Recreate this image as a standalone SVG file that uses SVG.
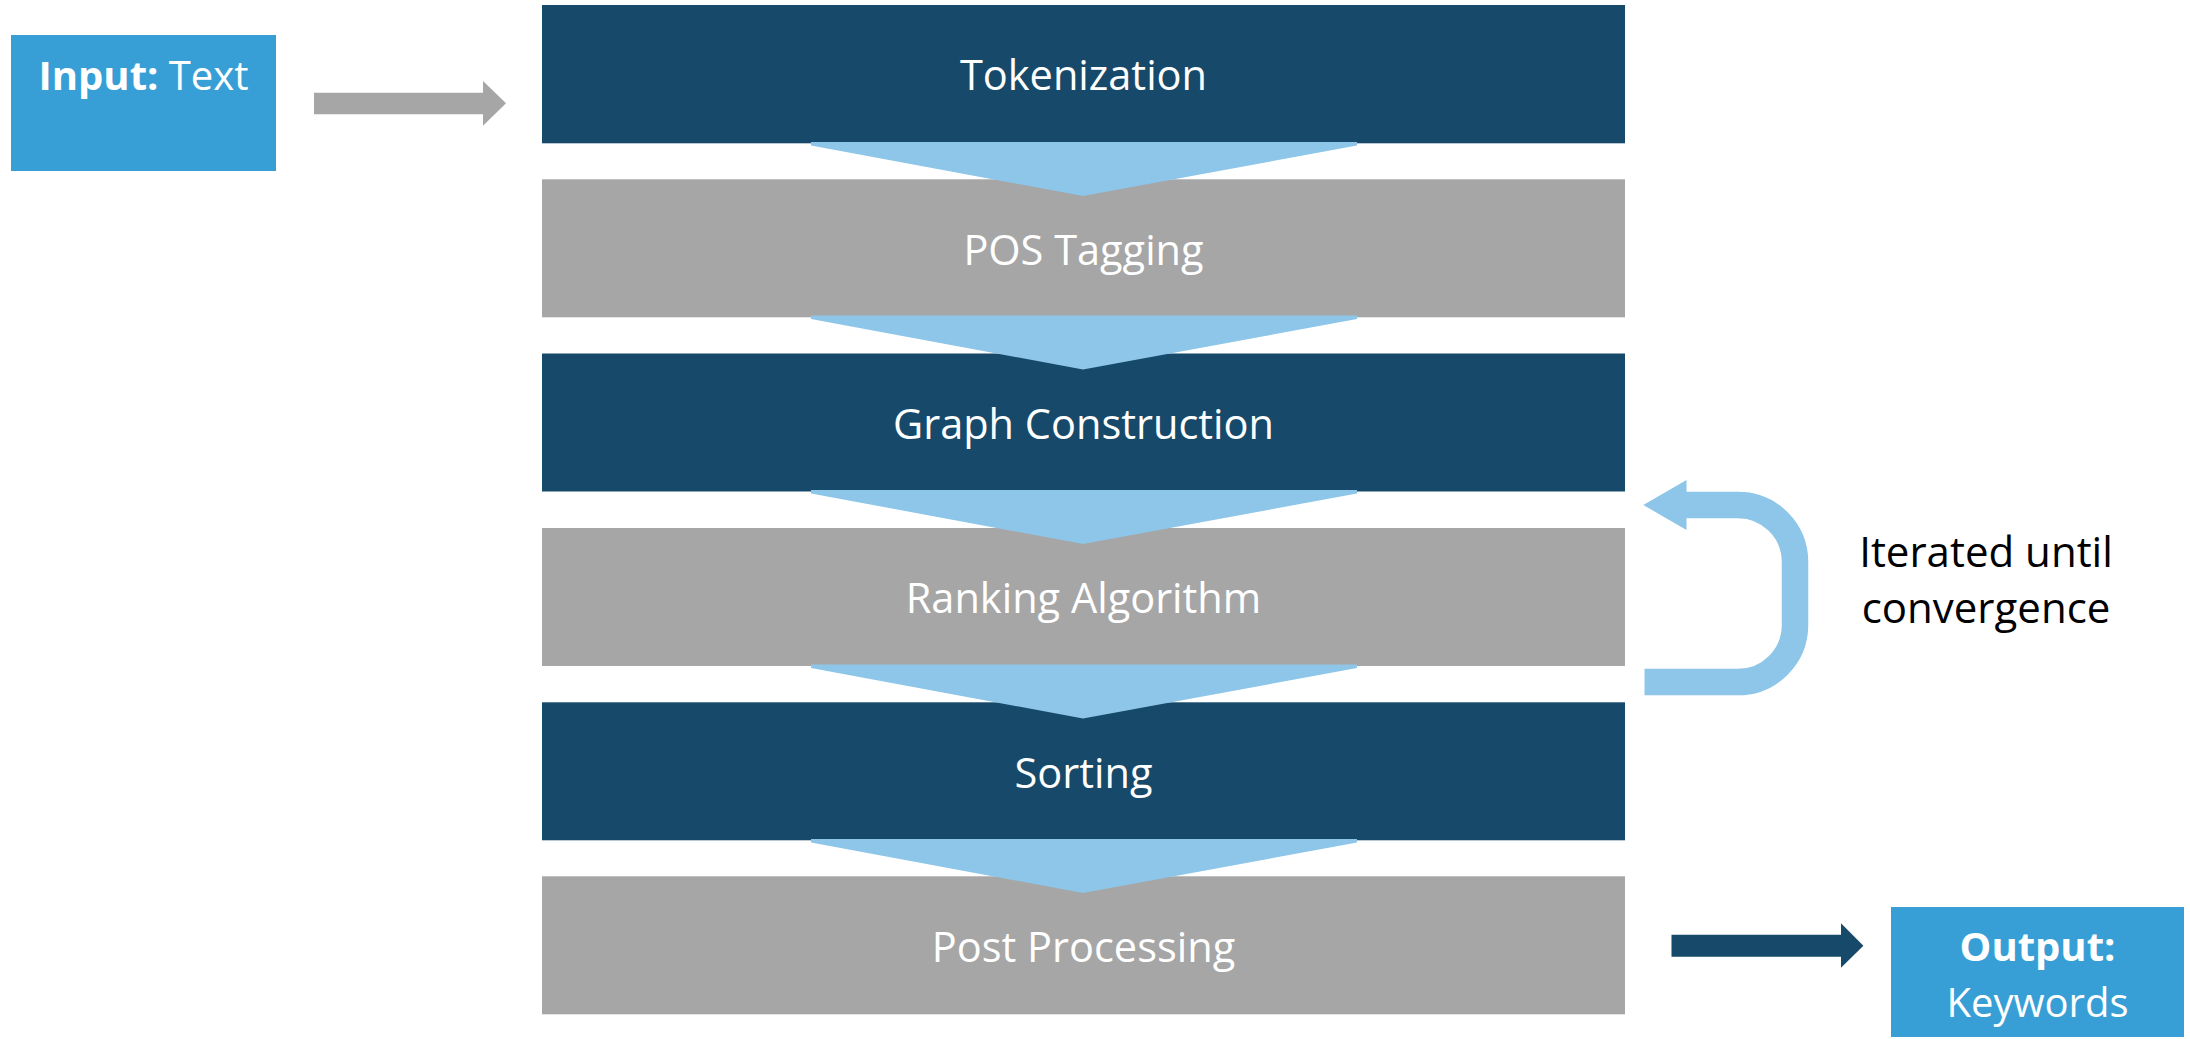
<svg xmlns="http://www.w3.org/2000/svg" width="2190" height="1039" viewBox="0 0 2190 1039">
<style>
.dark{fill:#174A6A}
.gray{fill:#A6A6A6}
.chev{fill:#8DC6E8}
.io{fill:#389FD6}
.lbl{font-family:"Open Sans","Liberation Sans",sans-serif;font-size:40px;fill:#FFFFFF;text-anchor:middle}
.step{font-size:41.5px}
.note{font-family:"Open Sans","Liberation Sans",sans-serif;font-size:42px;fill:#000000;text-anchor:middle}
.b{font-weight:bold}
</style>
<rect width="2190" height="1039" fill="#FFFFFF"/>
<g id="input">
<rect class="io" x="11" y="35" width="265" height="136"/>
<text class="lbl" x="143.5" y="90"><tspan class="b">Input:</tspan> Text</text>
</g>
<g id="tokenization">
<rect class="dark" x="542" y="5" width="1083" height="138.3"/>
<text class="lbl step" x="1083.5" y="90.4">Tokenization</text>
</g>
<g id="pos-tagging">
<rect class="gray" x="542" y="179.3" width="1083" height="138"/>
<text class="lbl step" x="1083.5" y="264.7">POS Tagging</text>
</g>
<g id="graph-construction">
<rect class="dark" x="542" y="353.5" width="1083" height="138"/>
<text class="lbl step" x="1083.5" y="439">Graph Construction</text>
</g>
<g id="ranking-algorithm">
<rect class="gray" x="542" y="528" width="1083" height="138"/>
<text class="lbl step" x="1083.5" y="613.4">Ranking Algorithm</text>
</g>
<g id="sorting">
<rect class="dark" x="542" y="702.3" width="1083" height="138"/>
<text class="lbl step" x="1083.5" y="787.7">Sorting</text>
</g>
<g id="post-processing">
<rect class="gray" x="542" y="876.3" width="1083" height="138"/>
<text class="lbl step" x="1083.5" y="961.7">Post Processing</text>
</g>
<g id="output">
<rect class="io" x="1891" y="907" width="293" height="130"/>
<text class="lbl b" x="2037.5" y="961">Output:</text>
<text class="lbl" x="2037.5" y="1017.3">Keywords</text>
</g>
<g id="note">
<text class="note" x="1986" y="567.3">Iterated until</text>
<text class="note" x="1986" y="623.3">convergence</text>
</g>
<g id="connectors">
<polygon class="gray" points="314,92.7 483,92.7 483,81 506,103.3 483,125.7 483,114.3 314,114.3"/>
<polygon class="chev" points="811,142 1357,142 1357,145.5 1083,196 811,145.5"/>
<polygon class="chev" points="811,315.5 1357,315.5 1357,319 1083,369.5 811,319"/>
<polygon class="chev" points="811,490 1357,490 1357,493.5 1083,544 811,493.5"/>
<polygon class="chev" points="811,664.5 1357,664.5 1357,668 1083,718.5 811,668"/>
<polygon class="chev" points="811,839 1357,839 1357,842.5 1083,893 811,842.5"/>
<path d="M1686,505 H1738 A57,57 0 0 1 1795,562 V625 A57,57 0 0 1 1738,682 H1644.5" fill="none" stroke="#8DC6E8" stroke-width="26.5"/>
<polygon class="chev" points="1643.3,505 1686.5,480 1686.5,530"/>
<polygon class="dark" points="1671.5,934.7 1841,934.7 1841,923.3 1863.4,945.7 1841,967.7 1841,956.7 1671.5,956.7"/>
</g>
</svg>
